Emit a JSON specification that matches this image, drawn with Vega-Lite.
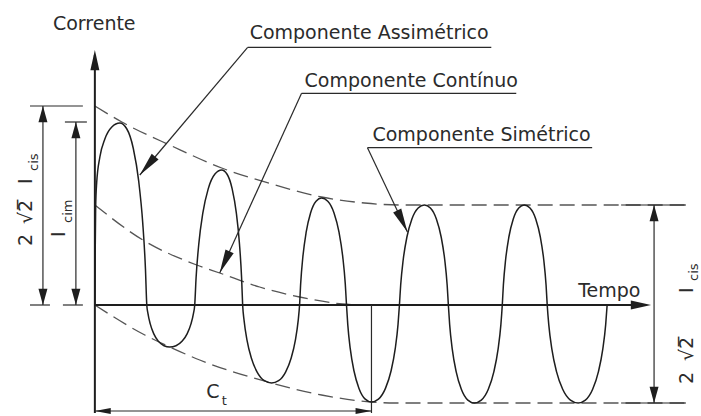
{
  "$schema": "https://vega.github.io/schema/vega-lite/v6.json",
  "width": 701,
  "height": 416,
  "autosize": {"type": "fit", "contains": "padding"},
  "padding": 0,
  "background": "white",
  "config": {"view": {"stroke": null}, "text": {"font": "DejaVu Sans"}},
  "datasets": {
    "wave": [
      {"t": 0, "i": 0}, {"t": 0.3, "i": 50}, {"t": 0.8, "i": 98}, {"t": 1.8, "i": 122}, {"t": 5, "i": 148}, {"t": 10, "i": 166}, {"t": 17, "i": 178}, {"t": 25, "i": 182},
      {"t": 31.75, "i": 176.5}, {"t": 38.5, "i": 156.5}, {"t": 43.9, "i": 123.8}, {"t": 47.95, "i": 81.9}, {"t": 50.65, "i": 36.4}, {"t": 52, "i": 0},
      {"t": 53.15, "i": -8.4}, {"t": 55.45, "i": -18.9}, {"t": 58.9, "i": -28.6}, {"t": 63.5, "i": -36.1}, {"t": 69.25, "i": -40.7}, {"t": 75, "i": -42},
      {"t": 81.25, "i": -40.7}, {"t": 87.5, "i": -36.1}, {"t": 92.5, "i": -28.6}, {"t": 96.25, "i": -18.9}, {"t": 98.75, "i": -8.4}, {"t": 100, "i": 0},
      {"t": 101.35, "i": 27}, {"t": 104.05, "i": 60.75}, {"t": 108.1, "i": 91.8}, {"t": 113.5, "i": 116.1}, {"t": 120.25, "i": 131}, {"t": 127, "i": 135},
      {"t": 132.25, "i": 131}, {"t": 137.5, "i": 116.1}, {"t": 141.7, "i": 91.8}, {"t": 144.85, "i": 60.75}, {"t": 146.95, "i": 27}, {"t": 148, "i": 0},
      {"t": 149.45, "i": -15.6}, {"t": 152.35, "i": -35.1}, {"t": 156.7, "i": -53}, {"t": 162.5, "i": -67.1}, {"t": 169.75, "i": -75.7}, {"t": 177, "i": -78},
      {"t": 184, "i": -75.7}, {"t": 191, "i": -67.1}, {"t": 196.6, "i": -53}, {"t": 200.8, "i": -35.1}, {"t": 203.6, "i": -15.6}, {"t": 205, "i": 0},
      {"t": 206.1, "i": 21.4}, {"t": 208.3, "i": 48.2}, {"t": 211.6, "i": 72.8}, {"t": 216, "i": 92}, {"t": 221.5, "i": 103.8}, {"t": 227, "i": 107},
      {"t": 233.25, "i": 103.8}, {"t": 239.5, "i": 92}, {"t": 244.5, "i": 72.8}, {"t": 248.25, "i": 48.2}, {"t": 250.75, "i": 21.4}, {"t": 252, "i": 0},
      {"t": 253.25, "i": -19.4}, {"t": 255.75, "i": -43.7}, {"t": 259.5, "i": -66}, {"t": 264.5, "i": -83.4}, {"t": 270.75, "i": -94.1}, {"t": 277, "i": -97},
      {"t": 284, "i": -94.1}, {"t": 291, "i": -83.4}, {"t": 296.6, "i": -66}, {"t": 300.8, "i": -43.7}, {"t": 303.6, "i": -19.4}, {"t": 305, "i": 0},
      {"t": 306.25, "i": 20}, {"t": 308.75, "i": 45}, {"t": 312.5, "i": 68}, {"t": 317.5, "i": 86}, {"t": 323.75, "i": 97}, {"t": 330, "i": 100},
      {"t": 336, "i": 97}, {"t": 342, "i": 86}, {"t": 346.8, "i": 68}, {"t": 350.4, "i": 45}, {"t": 352.8, "i": 20}, {"t": 354, "i": 0},
      {"t": 355.3, "i": -19.6}, {"t": 357.9, "i": -44.1}, {"t": 361.8, "i": -66.6}, {"t": 367, "i": -84.3}, {"t": 373.5, "i": -95.1}, {"t": 380, "i": -98},
      {"t": 387, "i": -95.1}, {"t": 394, "i": -84.3}, {"t": 399.6, "i": -66.6}, {"t": 403.8, "i": -44.1}, {"t": 406.6, "i": -19.6}, {"t": 408, "i": 0},
      {"t": 409.1, "i": 20}, {"t": 411.3, "i": 45}, {"t": 414.6, "i": 68}, {"t": 419, "i": 86}, {"t": 424.5, "i": 97}, {"t": 430, "i": 100},
      {"t": 435.75, "i": 97}, {"t": 441.5, "i": 86}, {"t": 446.1, "i": 68}, {"t": 449.55, "i": 45}, {"t": 451.85, "i": 20}, {"t": 453, "i": 0},
      {"t": 454.55, "i": -19.6}, {"t": 457.65, "i": -44.1}, {"t": 462.3, "i": -66.6}, {"t": 468.5, "i": -84.3}, {"t": 476.25, "i": -95.1}, {"t": 484, "i": -98},
      {"t": 491.25, "i": -95.1}, {"t": 498.5, "i": -84.3}, {"t": 504.3, "i": -66.6}, {"t": 508.65, "i": -44.1}, {"t": 511.55, "i": -19.6}, {"t": 513, "i": 0}
    ],
    "dashed": [
      {"c": "upper", "t": 0, "i": 199}, {"c": "upper", "t": 27, "i": 183}, {"c": "upper", "t": 77, "i": 159}, {"c": "upper", "t": 127, "i": 137},
      {"c": "upper", "t": 177, "i": 121}, {"c": "upper", "t": 227, "i": 108}, {"c": "upper", "t": 270, "i": 102}, {"c": "upper", "t": 305, "i": 100}, {"c": "upper", "t": 595, "i": 100},
      {"c": "lower", "t": 0, "i": 0}, {"c": "lower", "t": 50, "i": -30}, {"c": "lower", "t": 75, "i": -42}, {"c": "lower", "t": 105, "i": -55},
      {"c": "lower", "t": 177, "i": -78}, {"c": "lower", "t": 227, "i": -90}, {"c": "lower", "t": 277, "i": -97}, {"c": "lower", "t": 300, "i": -98}, {"c": "lower", "t": 592, "i": -98},
      {"c": "dc", "t": 0, "i": 100}, {"c": "dc", "t": 48, "i": 65}, {"c": "dc", "t": 102, "i": 40}, {"c": "dc", "t": 125, "i": 32},
      {"c": "dc", "t": 165, "i": 18}, {"c": "dc", "t": 205, "i": 8}, {"c": "dc", "t": 248, "i": 1}, {"c": "dc", "t": 262, "i": 0}
    ],
    "segs": [
      {"kind": "axis", "t": 0, "i": -108, "t2": 0, "i2": 250},
      {"kind": "axis", "t": 0, "i": 0, "t2": 552, "i2": 0},
      {"kind": "dim", "t": -52, "i": 0, "t2": -52, "i2": 199},
      {"kind": "dim", "t": -19, "i": 0, "t2": -19, "i2": 183},
      {"kind": "dim", "t": 560, "i": -98, "t2": 560, "i2": 100},
      {"kind": "dim", "t": 0, "i": -106, "t2": 277, "i2": -106},
      {"kind": "dim", "t": 277, "i": 0, "t2": 277, "i2": -108},
      {"kind": "ext", "t": -65, "i": 199, "t2": -12, "i2": 199},
      {"kind": "ext", "t": -30, "i": 183, "t2": -8, "i2": 183},
      {"kind": "ext", "t": -65, "i": 0, "t2": -45, "i2": 0},
      {"kind": "ext", "t": -32, "i": 0, "t2": -12, "i2": 0},
      {"kind": "ext", "t": 527, "i": 100, "t2": 592, "i2": 100},
      {"kind": "ext", "t": 527, "i": -98, "t2": 592, "i2": -98},
      {"kind": "underline", "t": 153, "i": 257.7, "t2": 397, "i2": 257.7},
      {"kind": "underline", "t": 207, "i": 211.7, "t2": 422, "i2": 211.7},
      {"kind": "underline", "t": 273, "i": 157.3, "t2": 498, "i2": 157.3},
      {"kind": "leader", "t": 153, "i": 257.7, "t2": 45, "i2": 130},
      {"kind": "leader", "t": 207, "i": 211.7, "t2": 125, "i2": 32},
      {"kind": "leader", "t": 273, "i": 157.3, "t2": 313, "i2": 73}
    ],
    "arrows": [
      {"kind": "axis", "t": 0, "i": 255, "dir": "up"},
      {"kind": "axis", "t": 557, "i": 0, "dir": "right"},
      {"kind": "dim", "t": -52, "i": 199, "dir": "up"},
      {"kind": "dim", "t": -52, "i": 0, "dir": "down"},
      {"kind": "dim", "t": -19, "i": 183, "dir": "up"},
      {"kind": "dim", "t": -19, "i": 0, "dir": "down"},
      {"kind": "dim", "t": 560, "i": 100, "dir": "up"},
      {"kind": "dim", "t": 560, "i": -98, "dir": "down"},
      {"kind": "span", "t": 0, "i": -106, "dir": "left"},
      {"kind": "span", "t": 277, "i": -106, "dir": "right"},
      {"kind": "leader", "t": 45, "i": 130, "dir": "assim"},
      {"kind": "leader", "t": 125, "i": 32, "dir": "cont"},
      {"kind": "leader", "t": 313, "i": 73, "dir": "sim"}
    ],
    "texts": [
      {"role": "label", "t": -42, "i": 275, "s": "Corrente"},
      {"role": "label", "t": 155, "i": 266.5, "s": "Componente Assimétrico"},
      {"role": "label", "t": 210, "i": 218.5, "s": "Componente Contínuo"},
      {"role": "label", "t": 278, "i": 164, "s": "Componente Simétrico"},
      {"role": "label", "t": 484, "i": 8, "s": "Tempo"},
      {"role": "label", "t": 111.5, "i": -93, "s": "C"},
      {"role": "sub", "t": 127, "i": -100, "s": "t"},
      {"role": "vlabel", "t": -63, "i": 59, "s": "2"},
      {"role": "vlabel", "t": -63, "i": 81, "s": "\u221a2\u0305"},
      {"role": "vlabel", "t": -63, "i": 121, "s": "I"},
      {"role": "vsub", "t": -57, "i": 134, "s": "cis"},
      {"role": "vlabel", "t": -30, "i": 68, "s": "I"},
      {"role": "vsub", "t": -23, "i": 82, "s": "cim"},
      {"role": "vlabel", "t": 599, "i": -79, "s": "2"},
      {"role": "vlabel", "t": 599, "i": -56, "s": "\u221a2\u0305"},
      {"role": "vlabel", "t": 599, "i": 12, "s": "I"},
      {"role": "vsub", "t": 604, "i": 24, "s": "cis"}
    ]
  },
  "encoding": {
    "x": {"field": "t", "type": "quantitative", "scale": {"domain": [-95, 606], "nice": false, "zero": false}, "axis": null},
    "y": {"field": "i", "type": "quantitative", "scale": {"domain": [-111, 305], "nice": false, "zero": false}, "axis": null}
  },
  "layer": [
    {
      "data": {"name": "dashed"},
      "mark": {"type": "line", "interpolate": "monotone", "strokeDash": [15, 7], "strokeWidth": 1.3, "color": "#555555"},
      "encoding": {"detail": {"field": "c", "type": "nominal"}}
    },
    {
      "data": {"name": "wave"},
      "mark": {"type": "line", "interpolate": "monotone", "strokeWidth": 1.5, "color": "#1e1e1e"},
      "encoding": {}
    },
    {
      "data": {"name": "segs"},
      "transform": [{"filter": "datum.kind === 'axis'"}],
      "mark": {"type": "rule", "strokeWidth": 2, "color": "#1e1e1e"},
      "encoding": {"x2": {"field": "t2"}, "y2": {"field": "i2"}}
    },
    {
      "data": {"name": "segs"},
      "transform": [{"filter": "datum.kind !== 'axis'"}],
      "mark": {"type": "rule", "strokeWidth": 1.2, "color": "#2a2a2a"},
      "encoding": {"x2": {"field": "t2"}, "y2": {"field": "i2"}}
    },
    {
      "data": {"name": "arrows"},
      "transform": [{"filter": "datum.kind === 'axis'"}],
      "mark": {"type": "point", "shape": "M0,0L-1,4.5L1,4.5Z", "filled": true, "size": 81, "color": "#1e1e1e", "opacity": 1},
      "encoding": {"angle": {"field": "dir", "type": "ordinal", "scale": {"type": "ordinal", "domain": ["up", "right", "down", "left", "assim", "cont", "sim"], "range": [0, 90, 180, 270, 220, 204.5, 154.6]}, "legend": null}}
    },
    {
      "data": {"name": "arrows"},
      "transform": [{"filter": "datum.kind === 'dim'"}],
      "mark": {"type": "point", "shape": "M0,0L-1,3.6L1,3.6Z", "filled": true, "size": 81, "color": "#1e1e1e", "opacity": 1},
      "encoding": {"angle": {"field": "dir", "type": "ordinal", "scale": {"type": "ordinal", "domain": ["up", "right", "down", "left", "assim", "cont", "sim"], "range": [0, 90, 180, 270, 220, 204.5, 154.6]}, "legend": null}}
    },
    {
      "data": {"name": "arrows"},
      "transform": [{"filter": "datum.kind === 'span'"}],
      "mark": {"type": "point", "shape": "M0,0L-1,5.3L1,5.3Z", "filled": true, "size": 36, "color": "#1e1e1e", "opacity": 1},
      "encoding": {"angle": {"field": "dir", "type": "ordinal", "scale": {"type": "ordinal", "domain": ["up", "right", "down", "left", "assim", "cont", "sim"], "range": [0, 90, 180, 270, 220, 204.5, 154.6]}, "legend": null}}
    },
    {
      "data": {"name": "arrows"},
      "transform": [{"filter": "datum.kind === 'leader'"}],
      "mark": {"type": "point", "shape": "M0,0L-1,5.3L1,5.3Z", "filled": true, "size": 81, "color": "#1e1e1e", "opacity": 1},
      "encoding": {"angle": {"field": "dir", "type": "ordinal", "scale": {"type": "ordinal", "domain": ["up", "right", "down", "left", "assim", "cont", "sim"], "range": [0, 90, 180, 270, 220, 204.5, 154.6]}, "legend": null}}
    },
    {
      "data": {"name": "texts"},
      "transform": [{"filter": "datum.role === 'label'"}],
      "mark": {"type": "text", "align": "left", "baseline": "alphabetic", "fontSize": 19, "color": "#2b2b2b"},
      "encoding": {"text": {"field": "s"}}
    },
    {
      "data": {"name": "texts"},
      "transform": [{"filter": "datum.role === 'sub'"}],
      "mark": {"type": "text", "align": "left", "baseline": "alphabetic", "fontSize": 13, "color": "#2b2b2b"},
      "encoding": {"text": {"field": "s"}}
    },
    {
      "data": {"name": "texts"},
      "transform": [{"filter": "datum.role === 'vlabel'"}],
      "mark": {"type": "text", "align": "left", "baseline": "alphabetic", "fontSize": 19, "angle": 270, "color": "#2b2b2b"},
      "encoding": {"text": {"field": "s"}}
    },
    {
      "data": {"name": "texts"},
      "transform": [{"filter": "datum.role === 'vsub'"}],
      "mark": {"type": "text", "align": "left", "baseline": "alphabetic", "fontSize": 13, "angle": 270, "color": "#2b2b2b"},
      "encoding": {"text": {"field": "s"}}
    }
  ]
}
